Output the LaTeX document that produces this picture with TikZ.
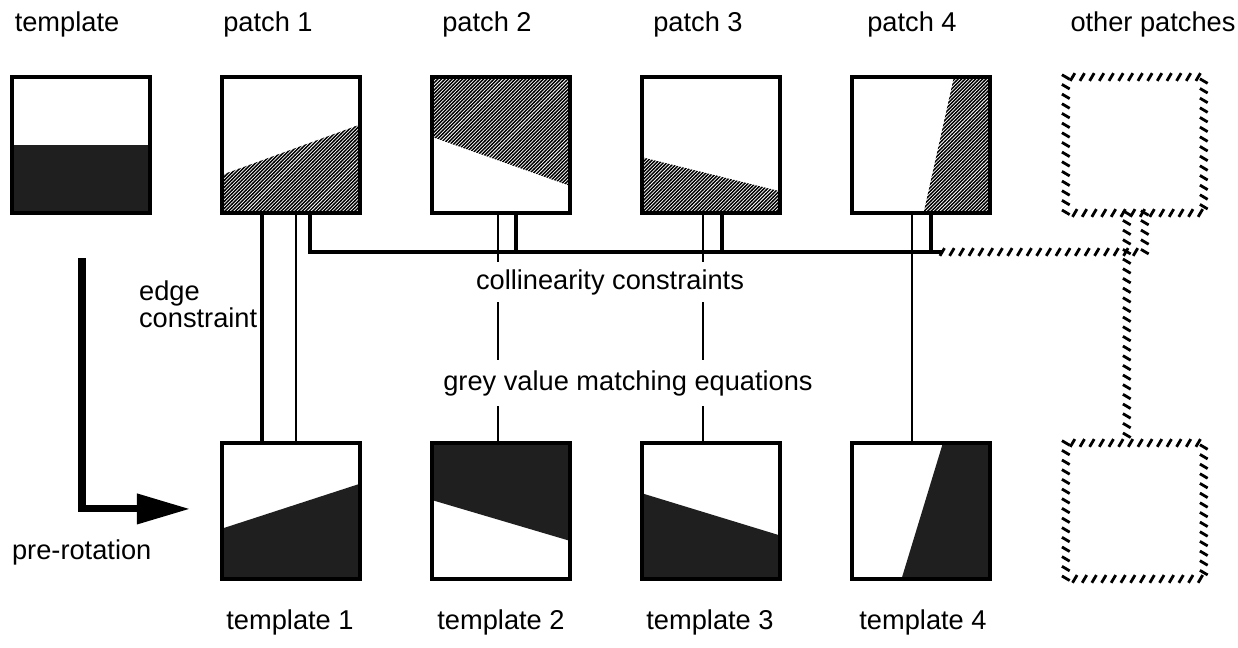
\documentclass[tikz,border=0pt]{standalone}
\usepackage{fontspec}
\setmainfont{Liberation Sans}
\usepackage{tikz}
\usetikzlibrary{arrows.meta,positioning,calc,patterns,backgrounds,decorations.markings}

\pgfdeclarepatternformonly{weave}{\pgfqpoint{-0.5pt}{-0.5pt}}{\pgfqpoint{2.5pt}{2.5pt}}{\pgfqpoint{2pt}{2pt}}{%
  \pgfsetlinewidth{0.8pt}%
  \pgfpathmoveto{\pgfqpoint{-0.1pt}{-0.1pt}}%
  \pgfpathlineto{\pgfqpoint{2.1pt}{2.1pt}}%
  \pgfusepath{stroke}}

\begin{document}
\begin{tikzpicture}[
    x=0.02cm, y=-0.02cm,
    node distance=1.44cm,
    box/.style={rectangle, draw=black, line width=2.5pt, minimum width=2.76cm,
      minimum height=2.72cm, inner sep=0pt, outer sep=0pt},
    ghost/.style={box, draw=none},
    lbl/.style={font=\fontsize{15.5}{17}\selectfont, inner sep=1pt},
    gaplbl/.style={lbl, fill=white, inner xsep=2pt, inner ysep=4pt},
    dark/.style={fill=black!88},
    grain/.style={pattern=weave},
    busline/.style={line width=2.3pt},
    thickline/.style={line width=1.8pt},
    thinline/.style={line width=1.1pt},
    hatchline/.style={decorate, decoration={markings,
      mark=between positions 0 and 1 step 5.5pt with {\draw[line width=1.6pt] (-1.3pt,-2.2pt) -- (1.3pt,2.2pt);}}},
    rotarrow/.style={line width=4pt, -{Triangle[length=1.06cm, width=0.58cm]}}
  ]
  \useasboundingbox (0,0) rectangle (1238,647);

  \node[box] (tmpl) at (81,145) {};
  \node[box, right=of tmpl] (p1) {};
  \node[box, right=of p1] (p2) {};
  \node[box, right=of p2] (p3) {};
  \node[box, right=of p3] (p4) {};
  \node[ghost, right=1.52cm of p4] (o1) {};
  \node[box, below=4.6cm of p1] (t1) {};
  \node[box, right=of t1] (t2) {};
  \node[box, right=of t2] (t3) {};
  \node[box, right=of t3] (t4) {};
  \node[ghost, below=4.6cm of o1] (o2) {};

  \begin{scope}[on background layer]
    \fill[dark] (tmpl.west) rectangle (tmpl.south east);
    \fill[grain] ($(p1.north west)!0.72!(p1.south west)$) -- ($(p1.north east)!0.35!(p1.south east)$)
      -- (p1.south east) -- (p1.south west) -- cycle;
    \fill[grain] (p2.north west) -- (p2.north east) -- ($(p2.north east)!0.80!(p2.south east)$)
      -- ($(p2.north west)!0.44!(p2.south west)$) -- cycle;
    \fill[grain] ($(p3.north west)!0.59!(p3.south west)$) -- ($(p3.north east)!0.84!(p3.south east)$)
      -- (p3.south east) -- (p3.south west) -- cycle;
    \fill[grain] ($(p4.north west)!0.74!(p4.north east)$) -- (p4.north east) -- (p4.south east)
      -- ($(p4.south west)!0.52!(p4.south east)$) -- cycle;
    \fill[dark] ($(t1.north west)!0.63!(t1.south west)$) -- ($(t1.north east)!0.30!(t1.south east)$)
      -- (t1.south east) -- (t1.south west) -- cycle;
    \fill[dark] (t2.north west) -- (t2.north east) -- ($(t2.north east)!0.72!(t2.south east)$)
      -- ($(t2.north west)!0.42!(t2.south west)$) -- cycle;
    \fill[dark] ($(t3.north west)!0.37!(t3.south west)$) -- ($(t3.north east)!0.68!(t3.south east)$)
      -- (t3.south east) -- (t3.south west) -- cycle;
    \fill[dark] ($(t4.north west)!0.66!(t4.north east)$) -- (t4.north east) -- (t4.south east)
      -- ($(t4.south west)!0.36!(t4.south east)$) -- cycle;
  \end{scope}

  \path[hatchline] (o1.north west) rectangle (o1.south east);
  \path[hatchline] (o2.north west) rectangle (o2.south east);

  \draw[thickline] ($(p1.south)+(-29,0)$) -- ($(t1.north)+(-29,0)$);
  \draw[thinline] ($(p1.south)+(5,0)$) -- ($(t1.north)+(5,0)$);
  \draw[busline] ($(p1.south)+(19,0)$) |- ($(p4.south)+(21,39)$);
  \draw[busline] ($(p2.south)+(15,0)$) -- ++(0,39);
  \draw[busline] ($(p3.south)+(11,0)$) -- ++(0,39);
  \draw[busline] ($(p4.south)+(10,0)$) -- ++(0,39);
  \draw[thinline] ($(p2.south)+(-3,0)$) -- ($(t2.north)+(-3,0)$);
  \draw[thinline] ($(p3.south)+(-8,0)$) -- ($(t3.north)+(-8,0)$);
  \draw[thinline] ($(p4.south)+(-9,0)$) -- ($(t4.north)+(-9,0)$);
  \path[hatchline] ($(o1.south)+(10,0)$) |- ($(p4.south)+(21,39)$);
  \path[hatchline] ($(o1.south)+(-8,0)$) -- ($(o2.north)+(-8,0)$);

  \coordinate (rotstart) at (82,258);
  \draw[rotarrow] (rotstart) |- ($(t1.west)+(-32,-2)$);

  \node[lbl] (ltmpl) at (67,24) {template};
  \node[lbl] (lp1) at (268,24) {patch 1};
  \node[lbl] (lp2) at (487,24) {patch 2};
  \node[lbl] (lp3) at (698,24) {patch 3};
  \node[lbl] (lp4) at (912,24) {patch 4};
  \node[lbl] (lo) at (1153,24) {other patches};
  \node[lbl] (lt1) at (290,622) {template 1};
  \node[lbl] (lt2) at (501,622) {template 2};
  \node[lbl] (lt3) at (710,622) {template 3};
  \node[lbl] (lt4) at (923,622) {template 4};
  \node[gaplbl] (coll) at (610,282) {collinearity constraints};
  \node[gaplbl, inner ysep=6pt] (grey) at (628,383) {grey value matching equations};
  \node[lbl, anchor=west, align=left, font=\fontsize{15.5}{15.5}\selectfont] (edge) at (137,304) {edge\\constraint};
  \node[lbl, anchor=west] (prerot) at (10,552) {pre-rotation};
\end{tikzpicture}
\end{document}
